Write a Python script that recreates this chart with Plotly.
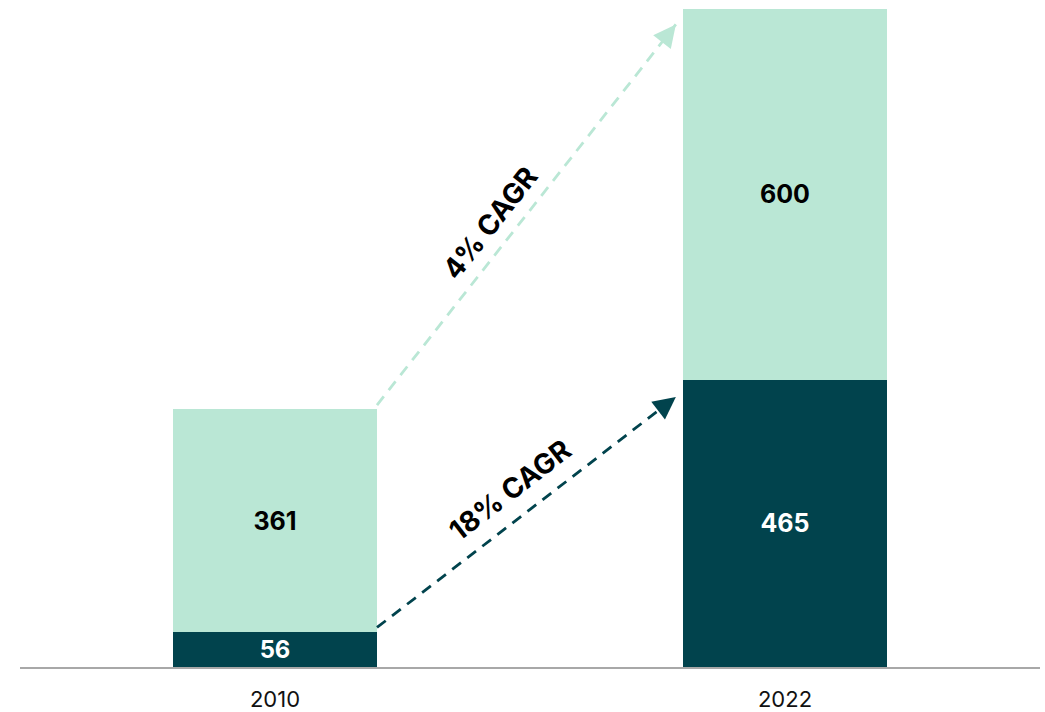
import math
import plotly.graph_objects as go

# Market size by segment
years = ["2010", "2022"]
core_values = [56, 465]       # dark segment (18% CAGR)
other_values = [361, 600]     # light segment (4% CAGR)
cagr_labels = ["18% CAGR", "4% CAGR"]

DARK = "#01434D"
LIGHT = "#BAE7D5"
FONT = "Inter"

x_pos = [0, 1]
totals = [c + o for c, o in zip(core_values, other_values)]

fig = go.Figure()

fig.add_trace(go.Bar(
    x=x_pos, y=core_values, width=0.4, marker=dict(color=DARK, line=dict(width=0)),
    text=[f"<b>{v}</b>" for v in core_values], textposition="inside",
    insidetextanchor="middle", textfont=dict(color="white", size=25, family=FONT),
    hoverinfo="skip",
))
fig.add_trace(go.Bar(
    x=x_pos, y=other_values, width=0.4, marker=dict(color=LIGHT, line=dict(width=0)),
    text=[f"<b>{v}</b>" for v in other_values], textposition="inside",
    insidetextanchor="middle", textfont=dict(color="black", size=25, family=FONT),
    hoverinfo="skip",
))

# Growth arrows: (start x, start y, end x, end y, colour, label, label x, label y, angle)
arrows = [
    (0.2, core_values[0] + 8, 0.786, core_values[1] - 28, DARK, cagr_labels[0], 0.461, 286, -37.6),
    (0.2, totals[0] + 7, 0.786, totals[1] - 25, LIGHT, cagr_labels[1], 0.422, 718, -51.8),
]

for x0, y0, x1, y1, col, label, lx, ly, ang in arrows:
    fig.add_trace(go.Scatter(
        x=[x0, x1], y=[y0, y1], mode="lines",
        line=dict(color=col, width=2.8, dash="11px,8px"),
        hoverinfo="skip", showlegend=False,
    ))
    rad = math.radians(-ang)
    fig.add_annotation(
        x=x1, y=y1, xref="x", yref="y", text="", showarrow=True,
        ax=-math.cos(rad) * 14, ay=math.sin(rad) * 14,
        arrowhead=2, arrowsize=1.6, arrowwidth=2.8, arrowcolor=col,
    )
    fig.add_annotation(
        x=lx, y=ly, xref="x", yref="y", text=f"<b>{label}</b>", showarrow=False,
        textangle=ang, font=dict(size=28, color="black", family=FONT),
        xanchor="center", yanchor="middle",
    )

fig.update_layout(
    barmode="stack",
    showlegend=False,
    width=1045, height=712,
    margin=dict(l=20, r=5, t=9, b=45, autoexpand=False),
    paper_bgcolor="white", plot_bgcolor="white",
    font=dict(family=FONT, color="black"),
    xaxis=dict(
        range=[-0.5, 1.5], tickmode="array", tickvals=x_pos, ticktext=years,
        showgrid=False, zeroline=False, showline=True, linecolor="#A8A8A8",
        linewidth=1.5, ticks="", tickfont=dict(size=22, family=FONT, color="#111111"),
        ticklabelstandoff=12, automargin=False,
    ),
    yaxis=dict(
        range=[0, totals[1]], visible=False, showgrid=False, zeroline=False,
    ),
)

fig.write_html("out.html")
